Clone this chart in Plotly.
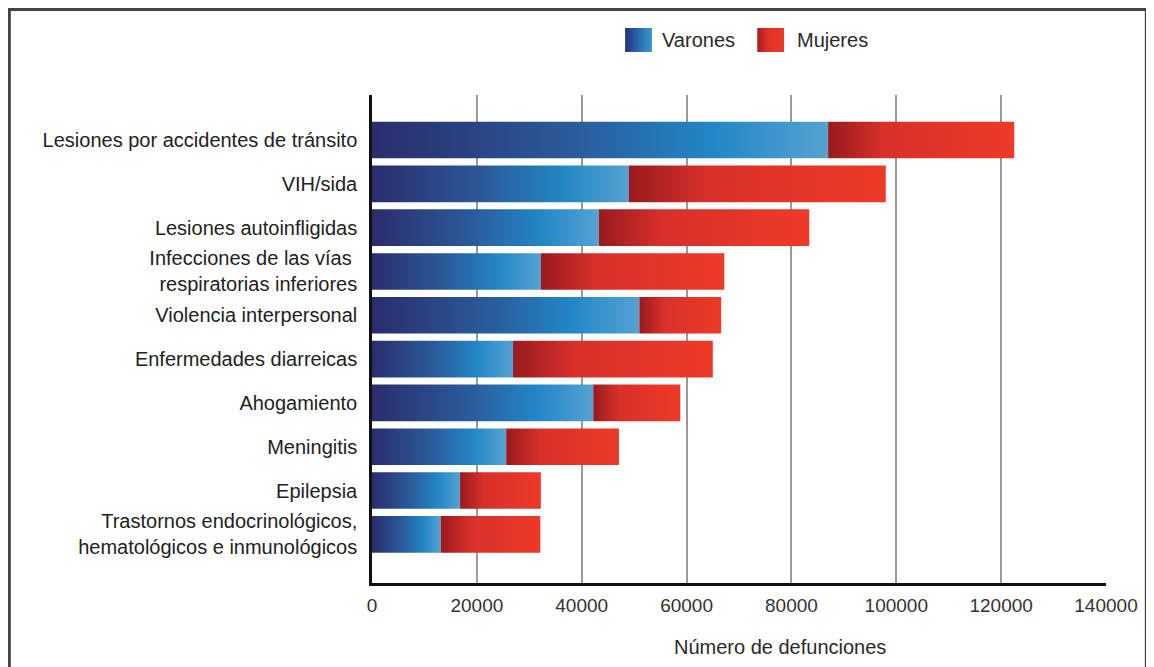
import base64
import plotly.graph_objects as go

categories = [
    "Lesiones por accidentes de tránsito",
    "VIH/sida",
    "Lesiones autoinfligidas",
    "Infecciones de las vías <br>respiratorias inferiores",
    "Violencia interpersonal",
    "Enfermedades diarreicas",
    "Ahogamiento",
    "Meningitis",
    "Epilepsia",
    "Trastornos endocrinológicos,<br>hematológicos e inmunológicos",
]
varones = [87000, 49000, 43300, 32200, 51000, 26900, 42200, 25600, 16800, 13100]
mujeres = [35500, 49000, 40100, 35000, 15600, 38100, 16600, 21500, 15400, 19000]
x_ticks = [0, 20000, 40000, 60000, 80000, 100000, 120000, 140000]
series_names = ["Varones", "Mujeres"]

BLUE_SCALE = [[0, "#2a2c6c"], [0.45, "#2a5c9c"], [0.75, "#2287c6"], [1, "#56a2d2"]]
RED_SCALE = [[0, "#981a1e"], [0.3, "#d8302a"], [1, "#ee3a27"]]
HALF = 0.418

fig = go.Figure()
series = [(series_names[0], varones, BLUE_SCALE), (series_names[1], mujeres, RED_SCALE)]
base = [0] * len(categories)
for name, values, scale in series:
    for i, v in enumerate(values):
        x0 = base[i]
        x1 = base[i] + v
        fig.add_trace(go.Scatter(
            x=[x0, x1, x1, x0, x0],
            y=[i - HALF, i - HALF, i + HALF, i + HALF, i - HALF],
            mode="lines",
            fill="toself",
            line=dict(width=0),
            fillgradient=dict(type="horizontal", colorscale=scale, start=x0, stop=x1),
            name=name,
            legendgroup=name,
            showlegend=False,
            hoverinfo="skip",
        ))
        base[i] = x1

# page has an 8px body margin; figure coords = screen coords - 8
W, H = 1154, 667
L, T = 364, 87
R = W - 1097.7
B = H - 574.7
pw = W - L - R
ph = H - T - B


def px(x):
    return (x - L) / pw


def py(y):
    return (H - B - y) / ph


def swatch(c0, cm, c1, mid):
    svg = ('<svg xmlns="http://www.w3.org/2000/svg" width="27" height="24">'
           '<defs><linearGradient id="g" x1="0" x2="1" y1="0" y2="0">'
           f'<stop offset="0" stop-color="{c0}"/>'
           f'<stop offset="{mid}" stop-color="{cm}"/>'
           f'<stop offset="1" stop-color="{c1}"/>'
           '</linearGradient></defs>'
           '<rect width="27" height="24" fill="url(#g)"/></svg>')
    return "data:image/svg+xml;base64," + base64.b64encode(svg.encode()).decode()


legend_items = [
    (series_names[0], swatch("#2a2f78", "#2a6aad", "#3a9ad2", 0.5), 617, 652),
    (series_names[1], swatch("#a81c1e", "#e0342a", "#ea3a28", 0.45), 749, 787),
]
images = []
annotations = []
for name, src, sx, tx in legend_items:
    images.append(dict(
        source=src, xref="paper", yref="paper",
        x=px(sx), y=py(20), sizex=27 / pw, sizey=24 / ph,
        xanchor="left", yanchor="top", sizing="stretch", layer="above",
    ))
    annotations.append(dict(
        text=name, xref="paper", yref="paper",
        x=px(tx), y=py(32), xanchor="left", yanchor="middle",
        showarrow=False, font=dict(size=20, color="#2a2a2a"),
    ))

annotations.append(dict(
    text="Número de defunciones",
    xref="paper", yref="paper",
    x=px(772), y=py(639),
    xanchor="center", yanchor="middle",
    showarrow=False,
    font=dict(size=20, color="#2a2a2a"),
))

fig.update_layout(
    width=W, height=H,
    margin=dict(l=L, r=R, t=T, b=B),
    paper_bgcolor="white",
    plot_bgcolor="white",
    font=dict(family="Liberation Sans, Arial, sans-serif", size=18, color="#2a2a2a"),
    showlegend=False,
    xaxis=dict(
        range=[0, 140000],
        tickvals=x_ticks,
        ticktext=[str(t) for t in x_ticks],
        showgrid=True, gridcolor="#9a9a9a", gridwidth=1.5,
        showline=True, linecolor="#111", linewidth=2.5,
        zeroline=False,
        ticks="", ticklabelstandoff=3,
        tickfont=dict(size=19, color="#333"),
    ),
    yaxis=dict(
        range=[10.11, -1.028],
        tickvals=list(range(len(categories))),
        ticktext=categories,
        showgrid=False,
        showline=True, linecolor="#111", linewidth=2.5,
        zeroline=False,
        ticks="", ticklabelstandoff=8,
        tickfont=dict(size=20, color="#222"),
    ),
    images=images,
    annotations=annotations,
    shapes=[dict(
        type="rect", xref="paper", yref="paper",
        x0=px(1.5), x1=px(1138),
        y0=py(720), y1=py(1.5),
        line=dict(color="#444", width=3),
        fillcolor="rgba(0,0,0,0)", layer="below",
    )],
)

fig.write_html("out.html")
